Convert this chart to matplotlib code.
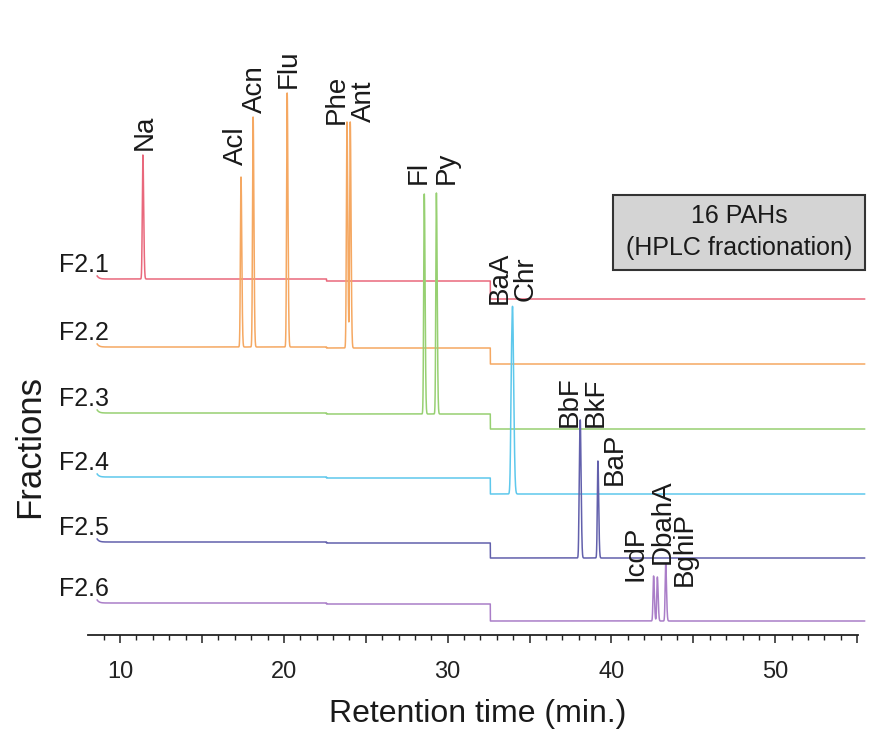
import numpy as np
import matplotlib
matplotlib.use("Agg")
import matplotlib.pyplot as plt
from matplotlib.ticker import MultipleLocator, FuncFormatter
from matplotlib.patches import Rectangle

plt.rcParams['font.family'] = ['Liberation Sans', 'DejaVu Sans']

# ---------------- data ----------------
fractions = ['F2.1', 'F2.2', 'F2.3', 'F2.4', 'F2.5', 'F2.6']
colors = ['#e9687c', '#f5a862', '#97d072', '#5ec8ec', '#6260ac', '#aa7ec8']
baseline_start = [356, 288, 222, 158, 93, 32]     # detector signal at start (offset units)
drop_first = [2, 1, 1, 1, 1, 1]                   # small baseline step
drop_second = [18, 16, 15, 16, 15, 17]            # large baseline step
step_times = [22.6, 32.6]
run_start, run_end = 8.6, 55.45

compounds = ['Na', 'Acl', 'Acn', 'Flu', 'Phe', 'Ant', 'Fl', 'Py', 'BaA', 'Chr',
             'BbF', 'BkF', 'BaP', 'IcdP', 'DbahA', 'BghiP']
peak_fraction = [0, 1, 1, 1, 1, 1, 2, 2, 3, 3, 4, 4, 4, 5, 5, 5]
peak_rt = [11.39, 17.38, 18.12, 20.20, 23.85, 24.05, 28.57, 29.31, 33.90, 33.98,
           38.05, 38.11, 39.17, 42.57, 42.80, 43.31]
peak_height = [124, 170, 230, 254, 226, 226, 220, 221, 116, 116,
               88, 88, 97, 45, 44, 57]
peak_width = [0.035, 0.035, 0.035, 0.035, 0.035, 0.035, 0.035, 0.035, 0.05, 0.05,
              0.035, 0.035, 0.035, 0.035, 0.035, 0.035]

box_lines = ['16 PAHs', '(HPLC fractionation)']
x_label = 'Retention time (min.)'
y_label = 'Fractions'

# ---------------- layout ----------------
W, H = 872, 738
fig = plt.figure(figsize=(W / 100, H / 100), dpi=100)
ax_left, ax_right, ax_bottom, ax_top = 88, 858, 635, 60
ax = fig.add_axes([ax_left / W, 1 - ax_bottom / H, (ax_right - ax_left) / W,
                   (ax_bottom - ax_top) / H])
ax.set_xlim(8.04, 55.05)
ax.set_ylim(0, ax_bottom - ax_top)
px_per_min = (ax_right - ax_left) / (55.05 - 8.04)

# label offsets (pixels) relative to visible peak top: (dx, dy)
label_offsets = {
    'Na': (-1, 5), 'Acl': (-8, 12), 'Acn': (-1, 4), 'Flu': (-1, 5),
    'Phe': (-13, -2), 'Ant': (11, 0), 'Fl': (-9, 10), 'Py': (7, 9),
    'BaA': (-15, 2), 'Chr': (10, 5), 'BbF': (-13, -7), 'BkF': (12, -7),
    'BaP': (14, -24), 'IcdP': (-21, -5), 'DbahA': (2, 13), 'BghiP': (16, -22),
}

t = np.linspace(run_start, run_end, 24000)


def signal(i, tt):
    tt = np.asarray(tt, dtype=float)
    y = baseline_start[i] - drop_first[i] * (tt > step_times[0]) \
        - drop_second[i] * (tt > step_times[1])
    y = y + 3.0 * np.exp(-(tt - run_start) / 0.12)
    for k in range(len(compounds)):
        if peak_fraction[k] == i:
            sig = peak_width[k]
            d = tt - peak_rt[k]
            sig_arr = np.where(d > 0, sig * 1.4, sig)
            y = y + peak_height[k] * np.exp(-0.5 * (d / sig_arr) ** 2)
    return y


for i, name in enumerate(fractions):
    ax.plot(t, signal(i, t), color=colors[i], lw=1.1, clip_on=False,
            solid_joinstyle='round')
    ax.text(9.3, baseline_start[i] + 14, name, ha='right', va='center',
            fontsize=18, color='#1a1a1a')

for k, comp in enumerate(compounds):
    i = peak_fraction[k]
    win = np.linspace(peak_rt[k] - 0.12, peak_rt[k] + 0.12, 241)
    top = float(signal(i, win).max())
    dx, dy = label_offsets[comp]
    ax.text(peak_rt[k] + (dx + 3) / px_per_min, top + dy, comp, rotation=90,
            ha='center', va='bottom', fontsize=20, color='#1a1a1a')

# axes styling
for s in ['left', 'right', 'top']:
    ax.spines[s].set_visible(False)
ax.spines['bottom'].set_linewidth(1.3)
ax.spines['bottom'].set_color('#222222')
ax.set_yticks([])
ax.xaxis.set_major_locator(MultipleLocator(5))
ax.xaxis.set_minor_locator(MultipleLocator(1))
ax.xaxis.set_major_formatter(FuncFormatter(
    lambda v, p: f'{int(round(v))}' if int(round(v)) % 10 == 0 else ''))
ax.tick_params(axis='x', which='major', length=6, width=1.1, direction='out',
               labelsize=17, pad=13, colors='#222222')
ax.tick_params(axis='x', which='minor', length=3.6, width=1.0, direction='out',
               colors='#222222')
ax.patch.set_alpha(0)

fig.text(478 / W, 1 - 714 / H, x_label, ha='center', va='center', fontsize=23,
         color='#1a1a1a')
fig.text(30 / W, 1 - 447 / H, y_label, ha='center', va='center', rotation=90,
         fontsize=25, color='#1a1a1a')

# info box
bx0, bx1, by0, by1 = 613, 865, 195, 270
fig.patches.append(Rectangle((bx0 / W, 1 - by1 / H), (bx1 - bx0) / W, (by1 - by0) / H,
                             transform=fig.transFigure, facecolor='#d4d4d4',
                             edgecolor='#333333', lw=1.5))
fig.text((bx0 + bx1) / 2 / W, 1 - 216 / H, box_lines[0], ha='center', va='center',
         fontsize=18, color='#1a1a1a')
fig.text((bx0 + bx1) / 2 / W, 1 - 248 / H, box_lines[1], ha='center', va='center',
         fontsize=18, color='#1a1a1a')

fig.savefig('out.png', dpi=100)
